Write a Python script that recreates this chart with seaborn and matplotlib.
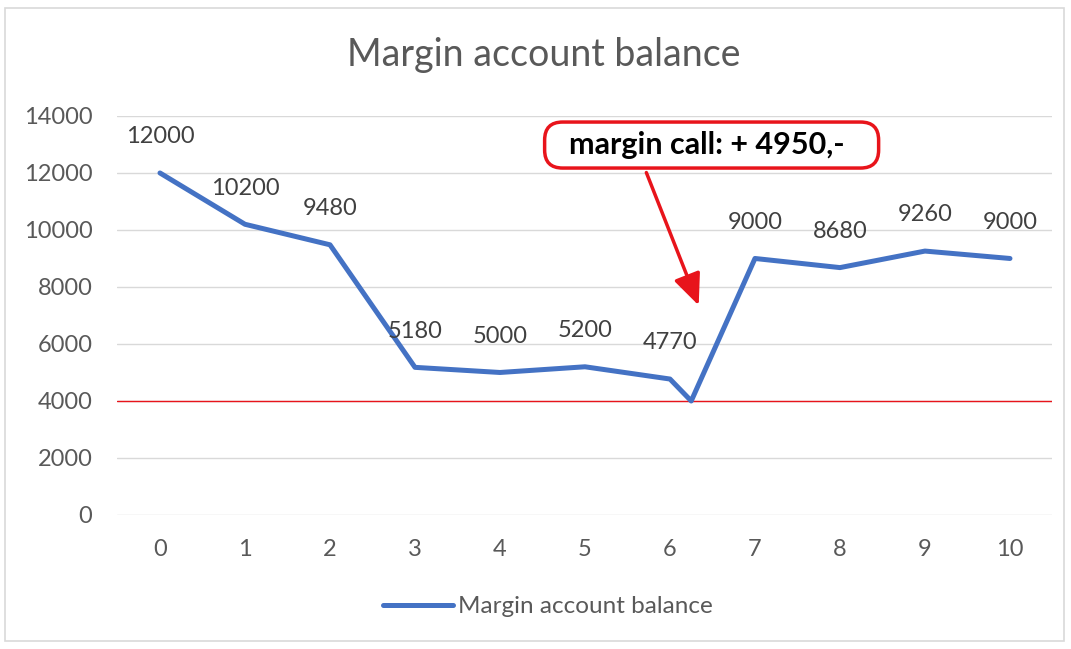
import matplotlib
matplotlib.use("Agg")
import matplotlib.pyplot as plt
import seaborn as sns
import pandas as pd
from matplotlib.patches import Rectangle, FancyBboxPatch
from matplotlib.transforms import IdentityTransform

periods = [0, 1, 2, 3, 4, 5, 6, 6.25, 7, 8, 9, 10]
balance = [12000, 10200, 9480, 5180, 5000, 5200, 4770, 4000, 9000, 8680, 9260, 9000]
show_label = [True, True, True, True, True, True, True, False, True, True, True, True]
maintenance_level = 4000
x_ticks = list(range(0, 11))
y_ticks = list(range(0, 14001, 2000))
title = "Margin account balance"
series_name = "Margin account balance"
note = "margin call: + 4950,-"

sns.set_theme(style="white")
plt.rcParams['font.family'] = ['Lato', 'DejaVu Sans']

df = pd.DataFrame({"period": periods, "balance": balance})

fig = plt.figure(figsize=(10.71, 6.49), dpi=100)
ax = fig.add_axes([0.1097, 0.2065, 0.873, 0.6148])

fig.patches.append(Rectangle((0.005, 0.013), 0.988, 0.975, transform=fig.transFigure,
                             fill=False, edgecolor="#D9D9D9", linewidth=1.2))

LBL = 17
ax.set_ylim(0, 14000)
ax.set_xlim(-0.5, 10.5)
ax.set_yticks(y_ticks)
ax.set_xticks(x_ticks)
ax.yaxis.grid(True, color="#D9D9D9", linewidth=1.0)
ax.set_axisbelow(True)
for s in ax.spines.values():
    s.set_visible(False)
ax.tick_params(axis="y", length=0, labelsize=LBL, labelcolor="#595959", pad=18)
ax.tick_params(axis="x", length=0, labelsize=LBL, labelcolor="#595959", pad=17)

ax.axhline(maintenance_level, color="#E8141B", linewidth=1.0, zorder=1)

sns.lineplot(data=df, x="period", y="balance", ax=ax, color="#4472C4",
             linewidth=3.6, label=series_name, zorder=3)
ax.set_xlabel("")
ax.set_ylabel("")

for xv, yv, sh in zip(periods, balance, show_label):
    if sh:
        ax.annotate(str(yv), (xv, yv), xytext=(0, 26), textcoords="offset points",
                    ha="center", va="center", fontsize=LBL, color="#404040")

ax.annotate("", xy=(6.35, 7263), xytext=(5.71, 12105),
            arrowprops=dict(arrowstyle="-|>,head_length=1.6,head_width=0.7",
                            color="#E8141B", linewidth=2.5), zorder=5)

# annotation box drawn in pixel space around the note position
cx, cy = ax.transData.transform((6.49, 12980))
box = FancyBboxPatch((cx - 167, cy - 23), 334, 46,
                     boxstyle="round,pad=0,rounding_size=18",
                     transform=IdentityTransform(), facecolor="white",
                     edgecolor="#E8141B", linewidth=2.5, zorder=6)
ax.add_artist(box)
ax.text(6.43, 12980, note, ha="center", va="center", fontsize=22, fontweight="bold",
        color="black", zorder=7)

fig.text(0.508, 0.915, title, ha="center", va="center", fontsize=27, color="#595959")

leg = ax.legend(loc="center", bbox_to_anchor=(0.46, -0.23), frameon=False,
                fontsize=LBL + 0.5, handlelength=2.9, handletextpad=0.2)
for t in leg.get_texts():
    t.set_color("#595959")

fig.savefig("out.png", dpi=100)
